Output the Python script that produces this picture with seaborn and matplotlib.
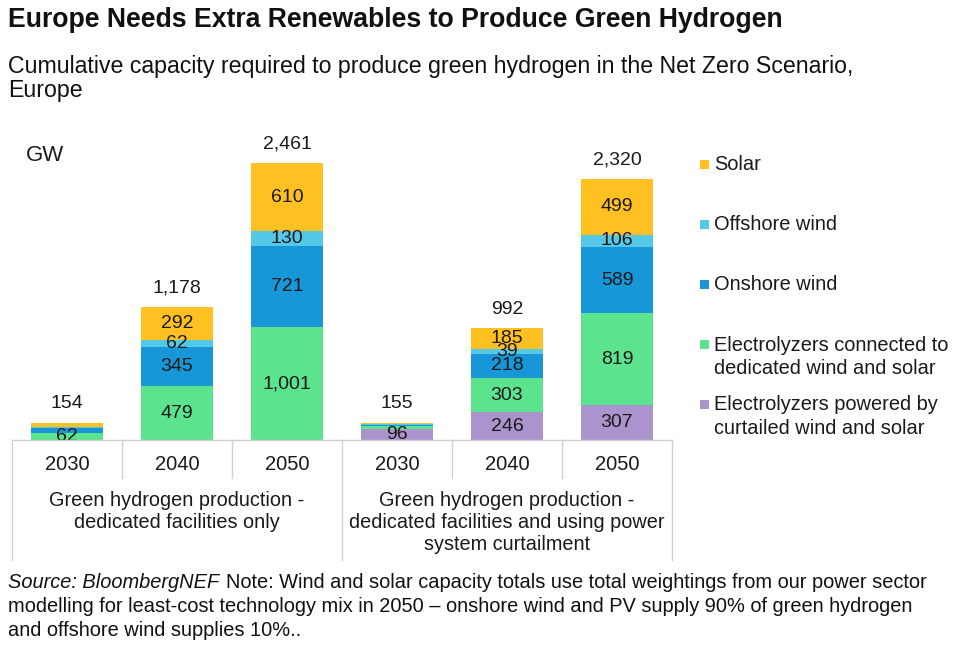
import matplotlib
matplotlib.use("Agg")
import matplotlib.pyplot as plt
import seaborn as sns
import numpy as np
import pandas as pd

# ---- data ----
groups = [["Green hydrogen production -", "dedicated facilities only"],
          ["Green hydrogen production -", "dedicated facilities and using power", "system curtailment"]]
years = ["2030", "2040", "2050", "2030", "2040", "2050"]
curtailed = [0, 0, 0, 96, 246, 307]
electrolyzers = [62, 479, 1001, 24, 303, 819]
onshore = [45, 345, 721, 17, 218, 589]
offshore = [9, 62, 130, 3, 39, 106]
solar = [38, 292, 610, 15, 185, 499]
totals = [154, 1178, 2461, 155, 992, 2320]

series_names = [["Solar"], ["Offshore wind"], ["Onshore wind"],
                ["Electrolyzers connected to", "dedicated wind and solar"],
                ["Electrolyzers powered by", "curtailed wind and solar"]]
colors = ["#FFC021", "#55C8E8", "#1797D8", "#5BE38E", "#AB94CD"]

# bottom-to-top order
stack_vals = [curtailed, electrolyzers, onshore, offshore, solar]
stack_cols = [colors[4], colors[3], colors[2], colors[1], colors[0]]
show = [
    [False, False, False, True, True, True],
    [True, True, True, False, True, True],
    [False, True, True, False, True, True],
    [False, True, True, False, True, True],
    [False, True, True, False, True, True],
]

plt.rcParams['font.family'] = ['Liberation Sans', 'DejaVu Sans']
W, H = 958, 652
fig = plt.figure(figsize=(W / 100, H / 100), dpi=100)

ax_left, ax_right = 12, 672
ax_bottom, ax_top = 440, 130
ax = fig.add_axes([ax_left / W, 1 - ax_bottom / H, (ax_right - ax_left) / W, (ax_bottom - ax_top) / H])
px_per_gw = 0.1126
ymax = (ax_bottom - ax_top) / px_per_gw

keys = [f"c{i}" for i in range(6)]
cum = np.zeros(6)
cums = []
for v in stack_vals:
    cum = cum + np.array(v)
    cums.append(cum.copy())

for i in range(len(stack_vals) - 1, -1, -1):
    df = pd.DataFrame({"key": keys, "val": cums[i]})
    sns.barplot(data=df, x="key", y="val", order=keys, color=stack_cols[i],
                saturation=1, width=0.66, ax=ax, linewidth=0, errorbar=None)

TXT = "#1a1a1a"
for i, v in enumerate(stack_vals):
    for j in range(6):
        if show[i][j] and v[j] > 0:
            ymid = cums[i][j] - v[j] / 2
            ax.text(j, ymid, f"{v[j]:,}", ha="center", va="center", fontsize=14, color=TXT)
for j in range(6):
    ax.text(j, totals[j] + 170, f"{totals[j]:,}", ha="center", va="center", fontsize=14, color=TXT)

ax.set_xlim(-0.5, 5.5)
ax.set_ylim(0, ymax)
ax.set_xticks([])
ax.set_yticks([])
ax.set_xlabel("")
ax.set_ylabel("")
for s in ax.spines.values():
    s.set_visible(False)


def fx(px):
    return px / W


def fy(py):
    return 1 - py / H


line_col = "#d0d0d0"
fig.add_artist(plt.Line2D([fx(ax_left), fx(ax_right)], [fy(ax_bottom), fy(ax_bottom)], color=line_col, lw=1))
cat_w = (ax_right - ax_left) / 6
for k in range(7):
    x = ax_left + k * cat_w
    bottom = 560 if k in (0, 3, 6) else 478
    fig.add_artist(plt.Line2D([fx(x), fx(x)], [fy(ax_bottom), fy(bottom)], color=line_col, lw=1))

for j, y in enumerate(years):
    fig.text(fx(ax_left + (j + 0.5) * cat_w), fy(464), y, ha="center", va="center", fontsize=14.5, color=TXT)
for g, lines in enumerate(groups):
    for li, lab in enumerate(lines):
        fig.text(fx(ax_left + (g * 3 + 1.5) * cat_w), fy(500 + li * 22.5), lab, ha="center", va="center",
                 fontsize=14.3, color=TXT)

fig.text(fx(26), fy(156), "GW", ha="left", va="center", fontsize=16, color=TXT)

# title & subtitle
fig.text(fx(8), fy(20), "Europe Needs Extra Renewables to Produce Green Hydrogen", ha="left", va="center",
         fontsize=19.2, fontweight="bold", color="#111111")
fig.text(fx(8), fy(66), "Cumulative capacity required to produce green hydrogen in the Net Zero Scenario,",
         ha="left", va="center", fontsize=16.7, color="#111111")
fig.text(fx(8), fy(90), "Europe", ha="left", va="center", fontsize=16.7, color="#111111")

# legend
leg_y = [165, 225, 285, 345, 405]
for lines, col, y in zip(series_names, colors, leg_y):
    fig.patches.append(plt.Rectangle((fx(700), fy(y + 4)), 9 / W, 9 / H, transform=fig.transFigure,
                                     facecolor=col, edgecolor="none"))
    for li, lab in enumerate(lines):
        fig.text(fx(714), fy(y + li * 23), lab, ha="left", va="center", fontsize=14.4, color=TXT)

# source note
FS = 14.4
src = fig.text(fx(8), fy(583), "Source: BloombergNEF", ha="left", va="center", fontsize=FS, style="italic",
               color="#111111")
fig.canvas.draw()
bb = src.get_window_extent(renderer=fig.canvas.get_renderer())
fig.text(bb.x1 / W + 7 / W, fy(583), "Note: Wind and solar capacity totals use total weightings from our power sector",
         ha="left", va="center", fontsize=FS, color="#111111")
fig.text(fx(8), fy(607), "modelling for least-cost technology mix in 2050 \u2013 onshore wind and PV supply 90% of green hydrogen",
         ha="left", va="center", fontsize=FS, color="#111111")
fig.text(fx(8), fy(630), "and offshore wind supplies 10%..", ha="left", va="center", fontsize=FS, color="#111111")

fig.savefig("out.png", dpi=100)
